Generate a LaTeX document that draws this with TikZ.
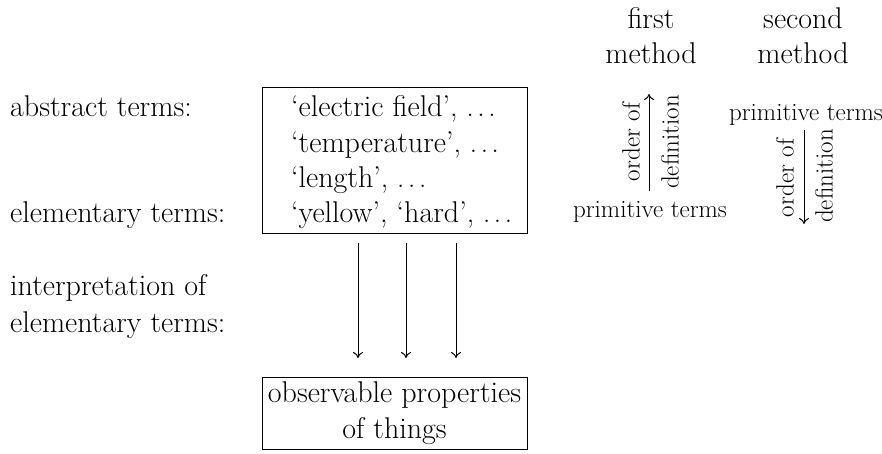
\documentclass[tikz,border=0pt]{standalone}
\usetikzlibrary{arrows.meta}
\begin{document}
\begin{tikzpicture}[x=1pt,y=-1pt,
  main/.style={font=\fontsize{30}{36}\selectfont, inner sep=0pt},
  small/.style={font=\fontsize{25}{30}\selectfont, inner sep=0pt},
  boxx/.style={draw, line width=0.9pt, inner sep=0pt},
  arr/.style={-{To[length=6pt,width=10pt]}, line width=1pt}]
\useasboundingbox (0,0) rectangle (882,453);
% left labels
\node[main, anchor=base west] (abs) at (10,116) {abstract terms:};
\node[main, anchor=base west] (elem) at (10,222) {elementary terms:};
\node[main, anchor=base west] (interp1) at (10,295) {interpretation of};
\node[main, anchor=base west] (interp2) at (10,332) {elementary terms:};
% top box
\node[boxx, minimum width=265pt, minimum height=146pt] (top) at (394.5,160) {};
\node[main, anchor=base west] (t1) at (291,116) {`electric field', $\ldots$};
\node[main, anchor=base west] (t2) at (291,152) {`temperature', $\ldots$};
\node[main, anchor=base west] (t3) at (291,187) {`length', $\ldots$};
\node[main, anchor=base west] (t4) at (291,222) {`yellow', `hard', $\ldots$};
% bottom box
\node[boxx, minimum width=265pt, minimum height=72pt] (bot) at (394.5,413) {};
\node[main, anchor=base] (b1) at (394.5,402) {observable properties};
\node[main, anchor=base] (b2) at (394.5,438) {of things};
% arrows
\foreach \x/\n in {358/a,406/b,456/c}{
  \coordinate (s\n) at (\x,243);
  \coordinate (e\n) at (\x,358);
  \draw[arr] (s\n) -- (e\n);
}
% first method
\node[main, anchor=base] (fm1) at (651,28) {first};
\node[main, anchor=base] (fm2) at (651,63) {method};
\node[small, anchor=base] (p1) at (650,217) {primitive terms};
\coordinate (f1s) at (649,191);
\coordinate (f1e) at (649,94);
\draw[arr] (f1s) -- (f1e);
\node[small, rotate=90] (o1) at (631,142) {order of};
\node[small, rotate=90] (d1) at (670,142) {definition};
% second method
\node[main, anchor=base] (sm1) at (803,28) {second};
\node[main, anchor=base] (sm2) at (803,63) {method};
\node[small, anchor=base] (p2) at (806,120) {primitive terms};
\coordinate (f2s) at (804,130);
\coordinate (f2e) at (804,224);
\draw[arr] (f2s) -- (f2e);
\node[small, rotate=90] (o2) at (785,178) {order of};
\node[small, rotate=90] (d2) at (824,176) {definition};
\end{tikzpicture}
\end{document}
